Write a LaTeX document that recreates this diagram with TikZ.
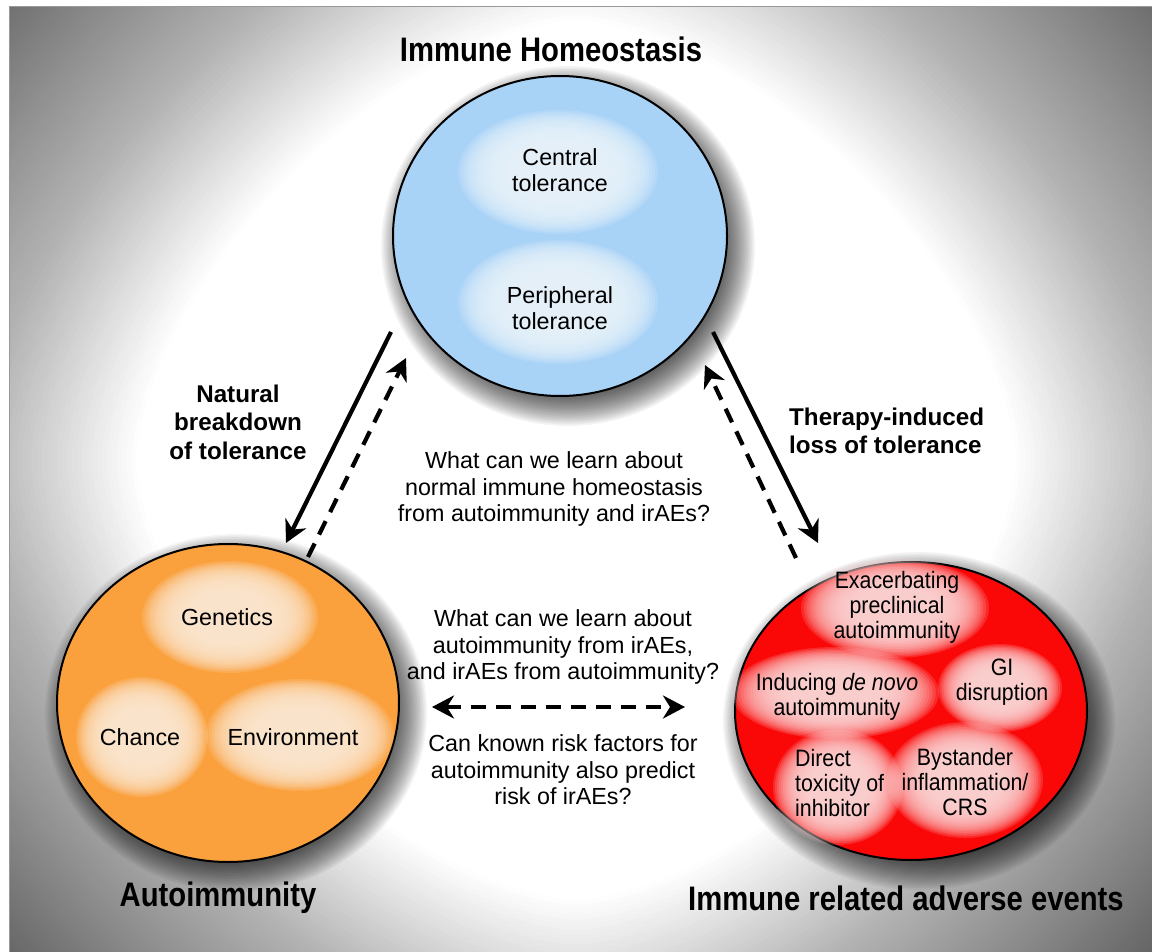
\documentclass[tikz,border=0pt]{standalone}
\usepackage{fontspec}
\setmainfont{Liberation Sans}
\newfontfamily\headfont{Liberation Sans}[FakeStretch=0.86]
\newfontfamily\tightfont{Liberation Sans}[FakeStretch=0.9]
\usetikzlibrary{arrows.meta,shapes.geometric}

% colours
\definecolor{skyfill}{RGB}{168,210,246}
\definecolor{skyspot}{RGB}{234,245,254}
\definecolor{amberfill}{RGB}{250,160,60}
\definecolor{amberspot}{RGB}{253,233,210}
\definecolor{scarletfill}{RGB}{250,8,8}
\definecolor{scarletspot}{RGB}{251,214,214}

% soft-edged light spot: colour, x, y, rx, ry (stacked translucent ellipses)
\newcommand\softspot[5]{%
  \foreach \k in {0,...,19}{%
    \pgfmathsetmacro\s{1-0.03*\k}%
    \fill[#1, opacity=0.16] (#2,#3) ellipse ({\s*#4} and {\s*#5});
  }}
% blurred drop shadow: x, y, rx, ry of the disc
\newcommand\discshadow[4]{%
  \foreach \k in {0,...,19}{%
    \fill[black, opacity=0.045] ({#1+8},{#2+10}) ellipse ({#3+20-1.6*\k} and {#4+20-1.6*\k});
  }}

\begin{document}
\begin{tikzpicture}[x=1pt,y=-1pt,
  >={Stealth[length=22pt,width=23pt,inset=7pt]},
  body/.style={font=\fontsize{23.3}{26.5}\selectfont, align=center, inner sep=0pt},
  redtext/.style={font=\tightfont\fontsize{23.7}{25}\selectfont, align=center, inner sep=0pt},
  heading/.style={font=\headfont\bfseries\fontsize{34}{38}\selectfont, inner sep=0pt},
  sidelabel/.style={font=\bfseries\fontsize{24.2}{28.5}\selectfont, inner sep=0pt},
  disc/.style={ellipse, draw=black, line width=2pt, inner sep=0pt},
  link/.style={line width=4.2pt, ->},
  dashlink/.style={link, dash pattern=on 15pt off 10pt},
]
\useasboundingbox (0,0) rectangle (1152,952);
\fill[white] (0,0) rectangle (1152,952);

% framed background: grey vignette (rounded-square rings), white in the middle
\begin{scope}
  \clip (9,7) rectangle (1152,952);
  \fill[black!62!white] (9,7) rectangle (1152,952);
  \foreach \d in {840,835,...,440}{%
    \pgfmathsetmacro\pct{\d<=600 ? 30*(\d-440)/160 : 30+32*(\d-600)/240}%
    \fill[black!\pct!white] plot[domain=2.5:357.5, samples=72, variable=\t]
      ({576+\d*cos(\t)*abs(cos(\t))^0.25}, {460+\d*sin(\t)*abs(sin(\t))^0.25}) -- cycle;
  }
\end{scope}
\draw[gray!80, line width=1pt] (9,7) rectangle (1152,952);

% shadows
\discshadow{560}{236}{167}{160}
\discshadow{228}{703}{171}{159}
\discshadow{911}{711}{176}{149}

% discs
\node[disc, fill=skyfill, minimum width=334pt, minimum height=320pt] (homeo) at (560,236) {};
\node[disc, fill=amberfill, minimum width=342pt, minimum height=318pt] (auto) at (228,703) {};
\node[disc, fill=scarletfill, minimum width=352pt, minimum height=298pt] (irae) at (911,711) {};

% spots: homeostasis
\softspot{skyspot}{558}{172}{100}{62}
\softspot{skyspot}{558}{302}{100}{62}
% spots: autoimmunity
\softspot{amberspot}{230}{617}{88}{56}
\softspot{amberspot}{142}{737}{66}{60}
\softspot{amberspot}{300}{735}{94}{56}
% spots: adverse events
\softspot{scarletspot}{895}{608}{94}{50}
\softspot{scarletspot}{835}{693}{104}{46}
\softspot{scarletspot}{1000}{688}{62}{44}
\softspot{scarletspot}{838}{787}{65}{58}
\softspot{scarletspot}{965}{780}{78}{58}

% headings
\node[heading] (thomeo) at (551,49) {Immune Homeostasis};
\node[heading] (tauto) at (218,898) {Autoimmunity};
\node[heading] (tirae) at (906,898) {Immune related adverse events};

% disc contents
\node[body] (central) at (560,170) {Central\\tolerance};
\node[body] (periph) at (560,308) {Peripheral\\tolerance};
\node[body] (genet) at (227,617) {Genetics};
\node[body] (chance) at (140,737) {Chance};
\node[body] (envir) at (293,737) {Environment};
\node[redtext] (exac) at (897,607) {Exacerbating\\preclinical\\autoimmunity};
\node[redtext] (denovo) at (837,697) {Inducing \textit{de novo}\\autoimmunity};
\node[redtext] (gi) at (1002,682) {GI\\disruption};
\node[redtext, align=left, anchor=west] (direct) at (795,783) {Direct\\toxicity of\\inhibitor};
\node[redtext] (bystand) at (965,782) {Bystander\\inflammation/\\CRS};

% side labels
\node[sidelabel, align=center] (natural) at (238,422) {Natural\\breakdown\\of tolerance};
\node[sidelabel, align=left, anchor=west] (therapy) at (789,431) {Therapy-induced\\loss of tolerance};

% questions
\node[body] (qhomeo) at (554,489) {What can we learn about\\normal immune homeostasis\\from autoimmunity and irAEs?};
\node[body] (qmutual) at (563,647) {What can we learn about\\autoimmunity from irAEs,\\and irAEs from autoimmunity?};
\node[body] (qrisk) at (563,770) {Can known risk factors for\\autoimmunity also predict\\risk of irAEs?};

% arrow end points
\coordinate (ls1) at (391,332);
\coordinate (ls2) at (286,543);
\coordinate (ld1) at (308,557);
\coordinate (ld2) at (406,358);
\coordinate (rs1) at (713,332);
\coordinate (rs2) at (818,543);
\coordinate (rd1) at (796,558);
\coordinate (rd2) at (705,365);
\coordinate (hl) at (432,707);
\coordinate (hr) at (685,707);

% arrows
\draw[link] (ls1) -- (ls2);
\draw[dashlink] (ld1) -- (ld2);
\draw[link] (rs1) -- (rs2);
\draw[dashlink] (rd1) -- (rd2);
\draw[dashlink, <->] (hl) -- (hr);
\end{tikzpicture}
\end{document}
